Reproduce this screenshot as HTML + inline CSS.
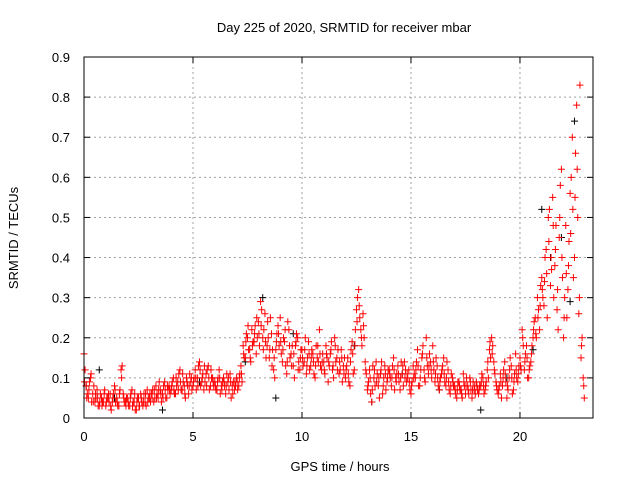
<!DOCTYPE html>
<html><head><meta charset="utf-8"><style>
body{margin:0;background:#fff}
svg{font-family:"Liberation Sans",sans-serif;font-size:13px}
</style></head><body>
<svg id="chart" width="640" height="480" viewBox="0 0 640 480">
<rect width="640" height="480" fill="#fff"/>
<g id="grid"></g>
<g id="series"></g>
<rect x="84" y="57" width="509" height="361" fill="none" stroke="#000"/>
<g id="axes"></g>
<text x="344" y="32" text-anchor="middle">Day 225 of 2020, SRMTID for receiver mbar</text>
<text x="340" y="471" text-anchor="middle">GPS time / hours</text>
<text transform="translate(18,238) rotate(-90)" text-anchor="middle">SRMTID / TECUs</text>
</svg>
<script>
const xTicks=[0,5,10,15,20];
const yTicks=[0,0.1,0.2,0.3,0.4,0.5,0.6,0.7,0.8,0.9];
const redA=[.16,.08,.05,.10,.06,.04,.07,.03,.05,.04,
.03,.05,.06,.04,.08,.05,.03,.12,.06,.04,
.05,.03,.07,.04,.02,.05,.06,.03,.04,.07,
.05,.06,.04,.08,.05,.07,.06,.09,.05,.08,
.07,.10,.06,.09,.12,.07,.08,.10,.06,.09,
.08,.12,.10,.14,.09,.07,.11,.13,.08,.10,
.09,.07,.12,.08,.10,.06,.09,.11,.08,.07,
.10,.08,.13,.18,.15,.20,.17,.22,.19,.16,
.24,.29,.20,.26,.18,.15,.21,.12,.17,.23,
.25,.14,.19,.11,.22,.16,.13,.18,.20,.12,
.17,.14,.11,.19,.13,.16,.10,.15,.22,.12,
.14,.18,.09,.16,.12,.20,.15,.11,.17,.13,
.10,.15,.08,.19,.12,.27,.32,.22,.26,.14,
.07,.12,.04,.10,.14,.08,.11,.06,.13,.09,
.12,.08,.15,.10,.13,.07,.11,.14,.09,.12,
.06,.13,.10,.17,.08,.15,.12,.20,.11,.14,
.18,.09,.13,.07,.11,.15,.08,.12,.06,.10,
.08,.05,.09,.07,.11,.06,.08,.10,.05,.07,
.09,.06,.08,.10,.07,.12,.17,.20,.14,.09,
.06,.11,.08,.14,.05,.10,.13,.07,.16,.09,
.15,.22,.12,.18,.10,.14,.20,.25,.30,.22,
.35,.28,.42,.50,.33,.55,.38,.27,.45,.62,
.20,.48,.32,.56,.70,.40,.78,.26,.15,.10];
const redB=[.12,.06,.09,.04,.08,.05,.03,.06,.04,.07,
.05,.04,.02,.06,.04,.03,.07,.13,.04,.05,
.03,.06,.04,.02,.05,.03,.04,.06,.03,.05,
.04,.07,.05,.06,.09,.04,.08,.05,.07,.06,
.09,.06,.08,.11,.07,.09,.05,.08,.11,.07,
.10,.07,.13,.08,.11,.09,.12,.07,.10,.08,
.07,.10,.06,.09,.08,.11,.07,.05,.09,.08,
.07,.11,.09,.15,.21,.17,.14,.19,.23,.20,
.18,.27,.22,.15,.20,.25,.17,.10,.21,.18,
.16,.20,.13,.24,.15,.18,.10,.21,.14,.17,
.13,.20,.15,.12,.17,.11,.18,.14,.13,.16,
.11,.15,.13,.19,.10,.14,.17,.12,.09,.15,
.13,.09,.17,.11,.22,.30,.25,.18,.20,.11,
.09,.06,.13,.08,.11,.05,.14,.10,.07,.12,
.10,.13,.07,.11,.09,.14,.08,.12,.10,.07,
.09,.11,.14,.08,.12,.18,.09,.13,.16,.10,
.12,.15,.08,.10,.13,.09,.14,.07,.11,.08,
.06,.09,.07,.05,.08,.10,.06,.07,.09,.06,
.07,.08,.11,.06,.09,.10,.15,.18,.11,.07,
.08,.05,.12,.09,.07,.15,.06,.11,.10,.13,
.12,.18,.16,.10,.13,.18,.24,.20,.27,.33,
.30,.40,.25,.52,.37,.30,.48,.22,.58,.35,
.30,.25,.44,.60,.35,.66,.50,.83,.20,.05];
const redC=[.09,.05,.07,.11,.04,.06,.05,.04,.03,.06,
.04,.06,.03,.05,.07,.04,.06,.10,.05,.03,
.04,.05,.03,.06,.04,.03,.05,.04,.06,.04,
.06,.05,.07,.05,.07,.06,.05,.07,.08,.07,
.08,.07,.10,.07,.09,.11,.06,.09,.08,.10,
.09,.10,.08,.12,.10,.13,.08,.10,.12,.09,
.08,.09,.10,.07,.09,.08,.10,.09,.06,.09,
.09,.10,.11,.16,.19,.23,.15,.18,.21,.25,
.21,.23,.17,.19,.24,.17,.13,.15,.19,.21,
.19,.17,.22,.14,.18,.13,.16,.19,.12,.15,
.15,.17,.13,.16,.15,.14,.13,.18,.16,.14,
.12,.16,.14,.17,.13,.18,.12,.14,.15,.11,
.12,.11,.14,.16,.18,.24,.28,.20,.23,.12,
.08,.10,.07,.12,.09,.10,.12,.08,.11,.10,
.11,.10,.12,.09,.11,.10,.13,.10,.11,.09,
.08,.10,.12,.13,.10,.16,.10,.15,.13,.12,
.14,.11,.10,.09,.12,.11,.10,.09,.08,.09,
.07,.07,.08,.06,.09,.08,.07,.09,.07,.08,
.08,.07,.09,.08,.08,.14,.19,.16,.12,.08,
.07,.09,.10,.11,.08,.12,.10,.09,.12,.11,
.13,.20,.14,.15,.12,.16,.22,.21,.25,.28,
.32,.34,.36,.44,.40,.48,.42,.32,.50,.40,
.25,.36,.38,.46,.52,.55,.62,.30,.18,.08];
const blackT=[0.1,0.7,1.4,3.6,5.3,7.4,8.2,8.8,9.6,12.4,13.2,14.6,16.3,18.2,19.4,20.6,21.0,21.4,21.9,22.3,22.5];
const blackV=[.08,.12,.05,.02,.09,.14,.30,.05,.21,.18,.04,.11,.07,.02,.10,.17,.52,.40,.45,.29,.74];
const X0=0,X1=23.35,Y0=0,Y1=0.9,L=84,R=593,T=57,B=418;
const sx=v=>L+(v-X0)/(X1-X0)*(R-L);
const sy=v=>B-(v-Y0)/(Y1-Y0)*(B-T);
const NS="http://www.w3.org/2000/svg";
function mk(tag,attrs,parent){const e=document.createElementNS(NS,tag);for(const k in attrs)e.setAttribute(k,attrs[k]);parent.appendChild(e);return e;}
const grid=document.getElementById('grid'),axes=document.getElementById('axes'),ser=document.getElementById('series');
xTicks.forEach(t=>{const x=sx(t);
 const g=mk('line',{x1:x,x2:x,y1:T,y2:B,stroke:'#a0a0a0','stroke-dasharray':'2,3'},grid);
 
 
 mk('line',{x1:x,x2:x,y1:B,y2:B-6,stroke:'#000'},axes);
 mk('line',{x1:x,x2:x,y1:T,y2:T+6,stroke:'#000'},axes);
 const tx=mk('text',{x:x,y:B+23,'text-anchor':'middle'},axes);tx.textContent=t;
 
 
});
yTicks.forEach(t=>{const y=sy(t);
 const g=mk('line',{x1:L,x2:R,y1:y,y2:y,stroke:'#a0a0a0','stroke-dasharray':'2,3'},grid);
 
 
 mk('line',{x1:L,x2:L+6,y1:y,y2:y,stroke:'#000'},axes);
 mk('line',{x1:R,x2:R-6,y1:y,y2:y,stroke:'#000'},axes);
 const tx=mk('text',{x:L-14,y:y+5,'text-anchor':'end'},axes);tx.textContent=t===0?'0':t.toFixed(1);
 
 
});
function plus(t,v,col,name){const x=sx(t),y=sy(v);
 const p=mk('path',{d:`M${x-3.5},${y}H${x+3.5}M${x},${y-3.5}V${y+3.5}`,stroke:col,'stroke-width':1,fill:'none'},ser);
 
 
}
blackT.forEach((t,i)=>plus(t,blackV[i],'#000','black-point'));
redA.forEach((v,i)=>plus(i*0.1,v,'#ff0000','red-point'));
redB.forEach((v,i)=>plus(i*0.1+0.05,v,'#ff0000','red-point'));
redC.forEach((v,i)=>plus(i*0.1+0.025,v,'#ff0000','red-point'));
</script>
</body></html>
